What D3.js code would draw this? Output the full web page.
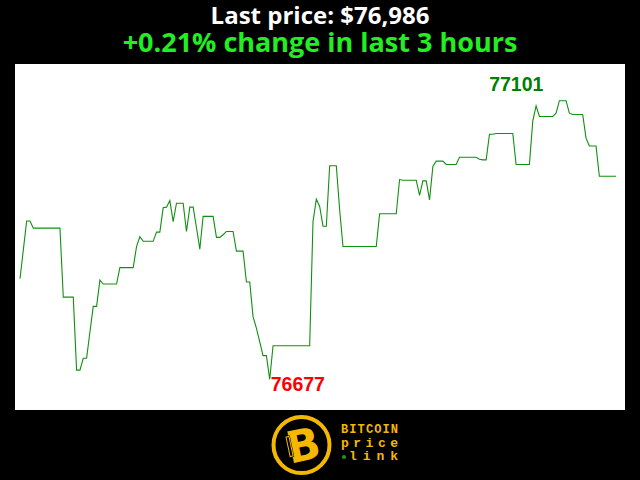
<!DOCTYPE html>
<html>
<head>
<meta charset="utf-8">
<script src="https://cdn.jsdelivr.net/npm/d3@7"></script>
<style>
html,body{margin:0;padding:0;background:#000;}
svg{display:block;}
</style>
</head>
<body>
<svg id="chart" width="640" height="480"></svg>
<script>
// ---- data (one value per minute, last 3 hours) ----
const prices = [
76830,76874,76918,76918,
76907,76907,76907,76907,76907,76907,76907,76907,76907,
76802,76802,76802,76802,
76691,76691,76709,76709,76749,76788,76788,76828,
76822,76822,76822,76822,76822,
76847,76847,76847,76847,76847,
76879,76894,76887,76887,76887,76887,
76901,76901,76938,76939,76949,76917,
76945,76945,76945,76902,76939,76939,76908,76875,
76925,76925,76925,76925,76893,76893,76897,
76902,76902,76902,76872,76872,76872,76825,76825,
76772,76755,76734,76713,76713,76677,
76728,76728,76728,76728,76728,76728,76728,76728,76728,76728,76728,76728,
76917,76951,76940,76910,76910,77002,77002,77002,76935,
76879,76879,76879,76879,76879,76879,76879,76879,76879,76879,76879,
76929,76929,76929,76929,76929,76929,
76981,76980,76980,76980,76980,76980,
76957,76979,76979,76950,77001,
77009,77009,77009,77004,77004,77004,77004,
77015,77015,77015,77015,77015,77015,77012,77011,77011,
77050,77050,77051,77051,77051,77051,77051,77051,
77004,77004,77004,77004,77004,
77070,77093,77077,77077,77077,77077,77077,77082,
77101,77101,77101,77082,77080,77080,77080,77080,
77044,77032,77032,77032,
76986,76986,76986,76986,76986,76986
];
const lastPrice = 76986;
const changePct = "+0.21%";
const titleLine1 = "Last price: $" + d3.format(",")(lastPrice);
const titleLine2 = changePct + " change in last 3 hours";
const logoWords = ["BITCOIN", "price", "link"];

const svg = d3.select("#chart");
svg.append("rect").attr("width",640).attr("height",480).attr("fill","#000");
svg.append("rect").attr("x",15).attr("y",64).attr("width",610).attr("height",346).attr("fill","#fff");

const minV = d3.min(prices), maxV = d3.max(prices);
const minI = prices.indexOf(minV), maxI = prices.indexOf(maxV);

const x = d3.scaleLinear().domain([0, prices.length-1]).range([20, 616]);
const y = d3.scaleLinear().domain([minV, maxV]).range([379.3, 100.7]);

const line = d3.line().x((d,i)=>x(i)).y(d=>y(d));
svg.append("path").datum(prices).attr("d",line)
  .attr("fill","none").attr("stroke","#109010").attr("stroke-width",1.1);

svg.append("text").attr("x",x(minI)+1).attr("y",y(minV)+12)
  .attr("font-family","Liberation Sans, Arial, sans-serif").attr("font-weight","bold")
  .attr("font-size",19.5).attr("fill","#ff0000").text(minV);
svg.append("text").attr("x",x(maxI)-16).attr("y",y(maxV)-9.5).attr("text-anchor","end")
  .attr("font-family","Liberation Sans, Arial, sans-serif").attr("font-weight","bold")
  .attr("font-size",19.5).attr("fill","#008000").text(maxV);

svg.append("text").attr("x",320).attr("y",24).attr("text-anchor","middle")
  .attr("font-family","Open Sans, sans-serif").attr("font-weight","bold")
  .attr("font-size",24).attr("fill","#fff").text(titleLine1);
svg.append("text").attr("x",320).attr("y",52).attr("text-anchor","middle")
  .attr("font-family","Open Sans, sans-serif").attr("font-weight","bold")
  .attr("font-size",27).attr("fill","#22ee22").text(titleLine2);

// ---- logo ----
const gold = "#f5b800";
const logo = svg.append("g");
logo.append("circle").attr("cx",301.5).attr("cy",445).attr("r",28).attr("fill","none")
  .attr("stroke",gold).attr("stroke-width",4);
logo.append("text").attr("x",303).attr("y",461).attr("text-anchor","middle")
  .attr("font-family","DejaVu Sans, sans-serif").attr("font-weight","bold")
  .attr("font-size",44).attr("fill",gold)
  .attr("transform","rotate(-12,301.5,445)").text("B");
logo.append("rect").attr("x",287).attr("y",433).attr("width",5).attr("height",22)
  .attr("fill","#000").attr("transform","rotate(-12,301.5,445)");
logo.append("rect").attr("x",288).attr("y",434).attr("width",3).attr("height",20)
  .attr("fill","none").attr("stroke",gold).attr("stroke-width",1)
  .attr("transform","rotate(-12,301.5,445)");
const mono = "Liberation Mono, DejaVu Sans Mono, monospace";
logo.append("text").attr("x",341).attr("y",433).attr("font-family",mono).attr("font-weight","bold")
  .attr("font-size",12).attr("fill",gold).attr("textLength",57).attr("lengthAdjust","spacing").text(logoWords[0]);
logo.append("text").attr("x",341).attr("y",446.5).attr("font-family",mono).attr("font-weight","bold")
  .attr("font-size",13).attr("fill",gold).attr("textLength",57).attr("lengthAdjust","spacing").text(logoWords[1]);
logo.append("circle").attr("cx",344).attr("cy",457).attr("r",2).attr("fill","#1a9a1a");
logo.append("text").attr("x",349).attr("y",460).attr("font-family",mono).attr("font-weight","bold")
  .attr("font-size",13).attr("fill",gold).attr("textLength",49).attr("lengthAdjust","spacing").text(logoWords[2]);
</script>
</body>
</html>
